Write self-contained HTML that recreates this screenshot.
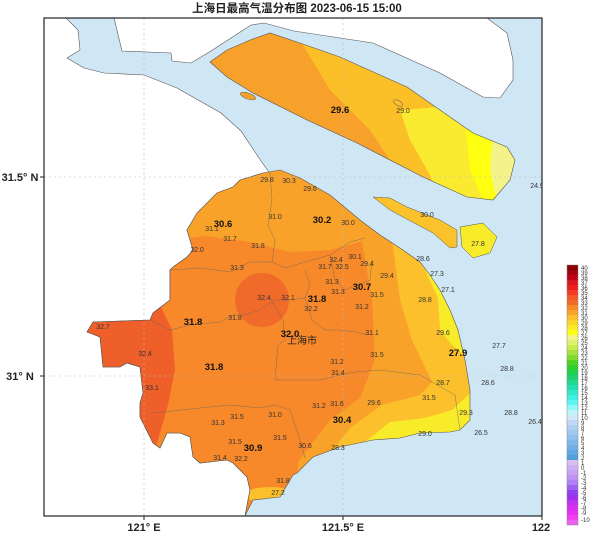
<!DOCTYPE html>
<html><head><meta charset="utf-8"><style>
html,body{margin:0;padding:0;background:#fff;}
svg{display:block;}
text{font-family:"Liberation Sans","Noto Sans CJK SC",sans-serif;}
.s{font-size:7px;fill:#333;text-anchor:middle;}
.b{font-size:9.5px;font-weight:bold;fill:#111;text-anchor:middle;}
.cb{font-size:6px;fill:#333;}
</style></head><body>
<svg width="600" height="546" viewBox="0 0 600 546" xmlns="http://www.w3.org/2000/svg">
<defs>
<clipPath id="frame"><rect x="44" y="18" width="498" height="498"/></clipPath>
<clipPath id="main"><polygon id="mp" points="263,173 280,170 300,178 330,195 360,220 380,235 400,248 420,262 430,275 440,290 450,310 458,330 465,360 470,390 470,420 460,430 450,432 420,433 400,438 373,440 340,447 313,457 297,473 293,475 280,497 253,500 248,510 245,516 248,500 250,490 247,477 233,463 227,460 200,463 193,457 190,437 180,433 167,433 160,448 153,443 140,417 140,403 143,393 140,367 127,363 120,367 103,367 100,337 87,332 93,322 150,320 153,313 170,300 170,270 173,267 187,257 193,250 187,230 197,213 217,193 233,187 240,180"/></clipPath>
<clipPath id="cm"><polygon points="210,62 227,50 250,40 270,33 300,43 340,57 380,75 407,87 440,110 473,133 507,147 515,160 510,180 493,200 467,197 423,177 357,143 307,120 253,93 227,77"/></clipPath>
</defs>
<g clip-path="url(#frame)">
<rect x="44" y="18" width="498" height="498" fill="#cfe6f5"/>
<!-- north bank -->
<polygon fill="#fff" stroke="#555" stroke-width="0.6" points="114,18 487,18 507,33 513,60 513,80 500,98 483,97 440,73 373,43 294,31 264,23 251,25 211,51 191,63 172,61 171,53 122,51"/>
<!-- south bank -->
<polygon fill="#fff" stroke="#555" stroke-width="0.6" points="44,18 66,18 78,30 80,50 67,58 84,68 104,73 144,75 177,88 221,113 241,131 261,161 271,175 263,173 240,180 233,187 217,193 197,213 187,230 193,250 187,257 173,267 170,270 170,300 153,313 150,320 93,322 87,332 100,337 103,367 120,367 127,363 140,367 143,393 140,403 140,417 153,443 160,448 167,433 180,433 190,437 193,457 200,463 227,460 233,463 247,477 250,490 248,500 245,516 44,516"/>
<!-- Chongming -->
<g clip-path="url(#cm)">
<rect x="200" y="20" width="330" height="190" fill="#f7a12a"/>
<polygon fill="#fbbf28" points="268,20 300,40 330,90 370,130 390,160 400,200 530,200 530,20"/>
<polygon fill="#faea30" points="400,110 410,140 430,175 440,200 530,200 530,100"/>
<polygon fill="#ffff10" points="465,120 470,170 485,205 530,205 530,120"/>
<polygon fill="#f3f38a" points="492,140 490,170 498,205 530,205 530,140"/>
</g>
<polygon fill="none" stroke="#555" stroke-width="0.6" points="210,62 227,50 250,40 270,33 300,43 340,57 380,75 407,87 440,110 473,133 507,147 515,160 510,180 493,200 467,197 423,177 357,143 307,120 253,93 227,77"/>
<ellipse cx="248" cy="96" rx="8" ry="3" fill="#f7a12a" stroke="#555" stroke-width="0.5" transform="rotate(20 248 96)"/>
<ellipse cx="398" cy="103" rx="5" ry="2.5" fill="#fbbf28" stroke="#555" stroke-width="0.5" transform="rotate(30 398 103)"/>
<!-- Changxing -->
<polygon fill="#fbc22b" stroke="#555" stroke-width="0.5" points="373,197 390,198 407,207 440,220 457,230 457,247 450,248 433,233 390,210"/>
<!-- Hengsha -->
<polygon fill="#f8ec2a" stroke="#555" stroke-width="0.5" points="460,227 483,223 497,237 490,253 473,258 462,247"/>
<!-- mainland -->
<g clip-path="url(#main)">
<rect x="80" y="160" width="400" height="360" fill="#f7892a"/>
<polygon fill="#f9a22a" points="150,150 400,150 375,238 330,250 290,252 250,242 205,236 160,242"/>
<polygon fill="#f9a22a" points="360,230 600,230 600,520 295,520 298,462 330,420 360,398 375,360 372,300"/>
<polygon fill="#fbc02b" points="392,240 600,240 600,520 308,520 318,468 350,428 382,405 420,395 432,382 412,340 400,300"/>
<polygon fill="#f8ec2a" points="418,255 600,255 600,520 330,520 340,462 390,422 425,418 452,410 482,382 470,360 452,345 440,330 438,298"/>
<ellipse cx="270" cy="495" rx="25" ry="8" fill="#fbc02b"/>
<polygon fill="#ef5f2a" points="80,300 160,305 172,330 175,370 168,405 155,450 80,450"/>
<circle cx="262" cy="300" r="27" fill="#f06a2a"/>
</g>
<use href="#mp" fill="none" stroke="#555" stroke-width="0.6"/>
<!-- district lines -->
<g fill="none" stroke="#666" stroke-width="0.5" opacity="0.8">
<polyline points="270,173 272,200 268,225 275,240 272,262 285,268 305,262 330,255 350,242 365,238"/>
<polyline points="170,270 200,268 230,272 250,262 272,262"/>
<polyline points="233,315 245,315 260,310 275,300 290,300 305,298"/>
<polyline points="305,270 310,285 305,298 312,320 325,330 340,330 355,332 370,335"/>
<polyline points="270,298 283,320 285,340 278,345 275,380 320,380 340,375 355,372 380,370 420,375 455,395 460,430"/>
<polyline points="150,320 170,330 190,325 220,322 233,315"/>
<polyline points="153,413 200,408 230,405 260,408 275,405 290,410 295,425 300,440 305,458"/>
<polyline points="330,255 335,280 345,290 370,280 372,260"/>
</g>
<!-- grid -->
<g stroke="#bbb" stroke-width="0.6" stroke-dasharray="2,3">
<line x1="144" y1="18" x2="144" y2="516"/><line x1="343" y1="18" x2="343" y2="516"/>
<line x1="44" y1="177" x2="542" y2="177"/><line x1="44" y1="376" x2="542" y2="376"/>
</g>
<!-- labels -->
<text class="b" x="340" y="113">29.6</text>
<text class="s" x="403" y="113">29.0</text>
<text class="s" x="537" y="188">24.9</text>
<text class="s" x="267" y="182">29.8</text><text class="s" x="289" y="183">30.3</text><text class="s" x="310" y="191">29.6</text>
<text class="s" x="275" y="219">31.0</text><text class="b" x="322" y="223">30.2</text><text class="s" x="348" y="225">30.0</text>
<text class="b" x="223" y="227">30.6</text><text class="s" x="212" y="231">31.1</text><text class="s" x="230" y="241">31.7</text>
<text class="s" x="258" y="248">31.8</text><text class="s" x="197" y="252">32.0</text>
<text class="s" x="427" y="217">30.0</text><text class="s" x="478" y="246">27.8</text><text class="s" x="423" y="261">28.6</text>
<text class="s" x="336" y="262">32.4</text><text class="s" x="355" y="259">30.1</text><text class="s" x="325" y="269">31.7</text>
<text class="s" x="342" y="269">32.5</text><text class="s" x="367" y="266">29.4</text><text class="s" x="237" y="270">31.3</text>
<text class="s" x="387" y="278">29.4</text><text class="s" x="437" y="276">27.3</text>
<text class="s" x="332" y="284">31.3</text><text class="b" x="362" y="290">30.7</text><text class="s" x="338" y="294">31.3</text>
<text class="s" x="377" y="297">31.5</text><text class="s" x="448" y="292">27.1</text><text class="s" x="425" y="302">28.8</text>
<text class="s" x="264" y="300">32.4</text><text class="s" x="288" y="300">32.1</text><text class="b" x="317" y="302">31.8</text>
<text class="s" x="311" y="311">32.2</text><text class="s" x="362" y="309">31.2</text>
<text class="b" x="193" y="325">31.8</text><text class="s" x="235" y="320">31.8</text><text class="s" x="103" y="329">32.7</text>
<text class="b" x="290" y="337">32.0</text><text x="302" y="344" style="font-size:10px;fill:#222;text-anchor:middle">上海市</text>
<text class="s" x="372" y="335">31.1</text><text class="s" x="443" y="335">29.6</text><text class="s" x="499" y="348">27.7</text>
<text class="b" x="458" y="356">27.9</text><text class="s" x="145" y="356">32.4</text><text class="s" x="377" y="357">31.5</text>
<text class="b" x="214" y="370">31.8</text><text class="s" x="337" y="364">31.2</text><text class="s" x="507" y="371">28.8</text>
<text class="s" x="338" y="375">31.4</text><text class="s" x="443" y="385">28.7</text><text class="s" x="488" y="385">28.6</text>
<text class="s" x="152" y="390">33.1</text><text class="s" x="429" y="400">31.5</text><text class="s" x="374" y="405">29.6</text>
<text class="s" x="319" y="408">31.2</text><text class="s" x="337" y="406">31.6</text><text class="s" x="466" y="415">29.3</text>
<text class="s" x="511" y="415">28.8</text><text class="s" x="535" y="424">26.4</text>
<text class="s" x="237" y="419">31.5</text><text class="s" x="275" y="417">31.0</text><text class="b" x="342" y="423">30.4</text>
<text class="s" x="218" y="425">31.3</text><text class="s" x="425" y="436">29.0</text><text class="s" x="481" y="435">26.5</text>
<text class="s" x="235" y="444">31.5</text><text class="b" x="253" y="451">30.9</text><text class="s" x="280" y="440">31.5</text>
<text class="s" x="305" y="448">30.6</text><text class="s" x="338" y="450">28.3</text>
<text class="s" x="220" y="460">31.4</text><text class="s" x="241" y="461">32.2</text><text class="s" x="283" y="483">31.8</text>
<text class="s" x="278" y="495">27.2</text>
</g>
<rect x="44" y="18" width="498" height="498" fill="none" stroke="#222" stroke-width="1.2"/>
<!-- ticks -->
<g stroke="#222" stroke-width="1"><line x1="40" y1="177" x2="44" y2="177"/><line x1="40" y1="376" x2="44" y2="376"/>
<line x1="144" y1="516" x2="144" y2="520"/><line x1="343" y1="516" x2="343" y2="520"/><line x1="542" y1="516" x2="542" y2="520"/></g>
<text x="20" y="181" style="font-size:11px;font-weight:bold;fill:#222;text-anchor:middle">31.5° N</text>
<text x="20" y="380" style="font-size:11px;font-weight:bold;fill:#222;text-anchor:middle">31° N</text>
<text x="144" y="531" style="font-size:11px;font-weight:bold;fill:#222;text-anchor:middle">121° E</text>
<text x="343" y="531" style="font-size:11px;font-weight:bold;fill:#222;text-anchor:middle">121.5° E</text>
<text x="541" y="531" style="font-size:11px;font-weight:bold;fill:#222;text-anchor:middle">122</text>
<text x="297" y="12" style="font-size:11.5px;font-weight:bold;fill:#222;text-anchor:middle">上海日最高气温分布图 2023-06-15 15:00</text>
<!-- colorbar -->
<g id="cb"></g>
<g>
<rect x="567" y="265" width="11" height="5" fill="#8b0000"/><rect x="567" y="270" width="11" height="5" fill="#a00010"/>
<rect x="567" y="275" width="11" height="5" fill="#c00018"/><rect x="567" y="280" width="11" height="5" fill="#d81820"/>
<rect x="567" y="285" width="11" height="5" fill="#ee2020"/><rect x="567" y="290" width="11" height="5" fill="#f53a22"/>
<rect x="567" y="295" width="11" height="5" fill="#f45a28"/><rect x="567" y="300" width="11" height="5" fill="#f06a2a"/>
<rect x="567" y="305" width="11" height="5" fill="#f7892a"/><rect x="567" y="310" width="11" height="5" fill="#f9a22a"/>
<rect x="567" y="315" width="11" height="5" fill="#fbc02b"/><rect x="567" y="320" width="11" height="5" fill="#fad52a"/>
<rect x="567" y="325" width="11" height="5" fill="#f8ec2a"/><rect x="567" y="330" width="11" height="5" fill="#ffff10"/>
<rect x="567" y="335" width="11" height="5" fill="#f3f38a"/><rect x="567" y="340" width="11" height="5" fill="#e0f070"/>
<rect x="567" y="345" width="11" height="5" fill="#c8ec50"/><rect x="567" y="350" width="11" height="5" fill="#a8e040"/>
<rect x="567" y="355" width="11" height="5" fill="#80d830"/><rect x="567" y="360" width="11" height="5" fill="#50d020"/>
<rect x="567" y="365" width="11" height="5" fill="#30d030"/><rect x="567" y="370" width="11" height="5" fill="#20d050"/>
<rect x="567" y="375" width="11" height="5" fill="#20d070"/><rect x="567" y="380" width="11" height="5" fill="#20d890"/>
<rect x="567" y="385" width="11" height="5" fill="#20e0b0"/><rect x="567" y="390" width="11" height="5" fill="#30e8c8"/>
<rect x="567" y="395" width="11" height="5" fill="#40f0e0"/><rect x="567" y="400" width="11" height="5" fill="#60f4f0"/>
<rect x="567" y="405" width="11" height="5" fill="#90f8f8"/><rect x="567" y="410" width="11" height="5" fill="#c0f4f8"/>
<rect x="567" y="415" width="11" height="5" fill="#d0e8f8"/><rect x="567" y="420" width="11" height="5" fill="#c0d8f4"/>
<rect x="567" y="425" width="11" height="5" fill="#b0d0f2"/><rect x="567" y="430" width="11" height="5" fill="#a0c8f0"/>
<rect x="567" y="435" width="11" height="5" fill="#90c0ee"/><rect x="567" y="440" width="11" height="5" fill="#80b8ea"/>
<rect x="567" y="445" width="11" height="5" fill="#70b0e6"/><rect x="567" y="450" width="11" height="5" fill="#60a8e2"/>
<rect x="567" y="455" width="11" height="5" fill="#50a0dc"/><rect x="567" y="460" width="11" height="5" fill="#d8c0f0"/>
<rect x="567" y="465" width="11" height="5" fill="#d0b0f4"/><rect x="567" y="470" width="11" height="5" fill="#c8a0f4"/>
<rect x="567" y="475" width="11" height="5" fill="#c090f4"/><rect x="567" y="480" width="11" height="5" fill="#b080f4"/>
<rect x="567" y="485" width="11" height="5" fill="#a060f0"/><rect x="567" y="490" width="11" height="5" fill="#9040f0"/>
<rect x="567" y="495" width="11" height="5" fill="#a030f0"/><rect x="567" y="500" width="11" height="5" fill="#c030f0"/>
<rect x="567" y="505" width="11" height="5" fill="#d830f0"/><rect x="567" y="510" width="11" height="5" fill="#e830f0"/>
<rect x="567" y="515" width="11" height="5" fill="#f040f0"/><rect x="567" y="520" width="11" height="5" fill="#f060f0"/>
</g>
<rect x="567" y="265" width="11" height="260" fill="none" stroke="#888" stroke-width="0.5"/>
<g class="cb">
<text class="cb" x="581" y="270">40</text><text class="cb" x="581" y="275">39</text><text class="cb" x="581" y="280">38</text><text class="cb" x="581" y="285">37</text><text class="cb" x="581" y="290">36</text><text class="cb" x="581" y="295">35</text><text class="cb" x="581" y="300">34</text><text class="cb" x="581" y="305">33</text><text class="cb" x="581" y="310">32</text><text class="cb" x="581" y="315">31</text><text class="cb" x="581" y="320">30</text><text class="cb" x="581" y="325">29</text><text class="cb" x="581" y="330">28</text><text class="cb" x="581" y="335">27</text><text class="cb" x="581" y="340">26</text><text class="cb" x="581" y="345">25</text><text class="cb" x="581" y="350">24</text><text class="cb" x="581" y="355">23</text><text class="cb" x="581" y="360">22</text><text class="cb" x="581" y="365">21</text><text class="cb" x="581" y="370">20</text><text class="cb" x="581" y="375">19</text><text class="cb" x="581" y="380">18</text><text class="cb" x="581" y="385">17</text><text class="cb" x="581" y="390">16</text><text class="cb" x="581" y="395">15</text><text class="cb" x="581" y="400">14</text><text class="cb" x="581" y="405">13</text><text class="cb" x="581" y="410">12</text><text class="cb" x="581" y="415">11</text><text class="cb" x="581" y="420">10</text><text class="cb" x="581" y="425">9</text><text class="cb" x="581" y="430">8</text><text class="cb" x="581" y="435">7</text><text class="cb" x="581" y="440">6</text><text class="cb" x="581" y="445">5</text><text class="cb" x="581" y="450">4</text><text class="cb" x="581" y="455">3</text><text class="cb" x="581" y="460">2</text><text class="cb" x="581" y="465">1</text><text class="cb" x="581" y="470">0</text><text class="cb" x="581" y="475">-1</text><text class="cb" x="581" y="480">-2</text><text class="cb" x="581" y="485">-3</text><text class="cb" x="581" y="490">-4</text><text class="cb" x="581" y="495">-5</text><text class="cb" x="581" y="500">-6</text><text class="cb" x="581" y="505">-7</text><text class="cb" x="581" y="510">-8</text><text class="cb" x="581" y="515">-9</text><text class="cb" x="581" y="522">-10</text>
</g>
</svg>
</body></html>
